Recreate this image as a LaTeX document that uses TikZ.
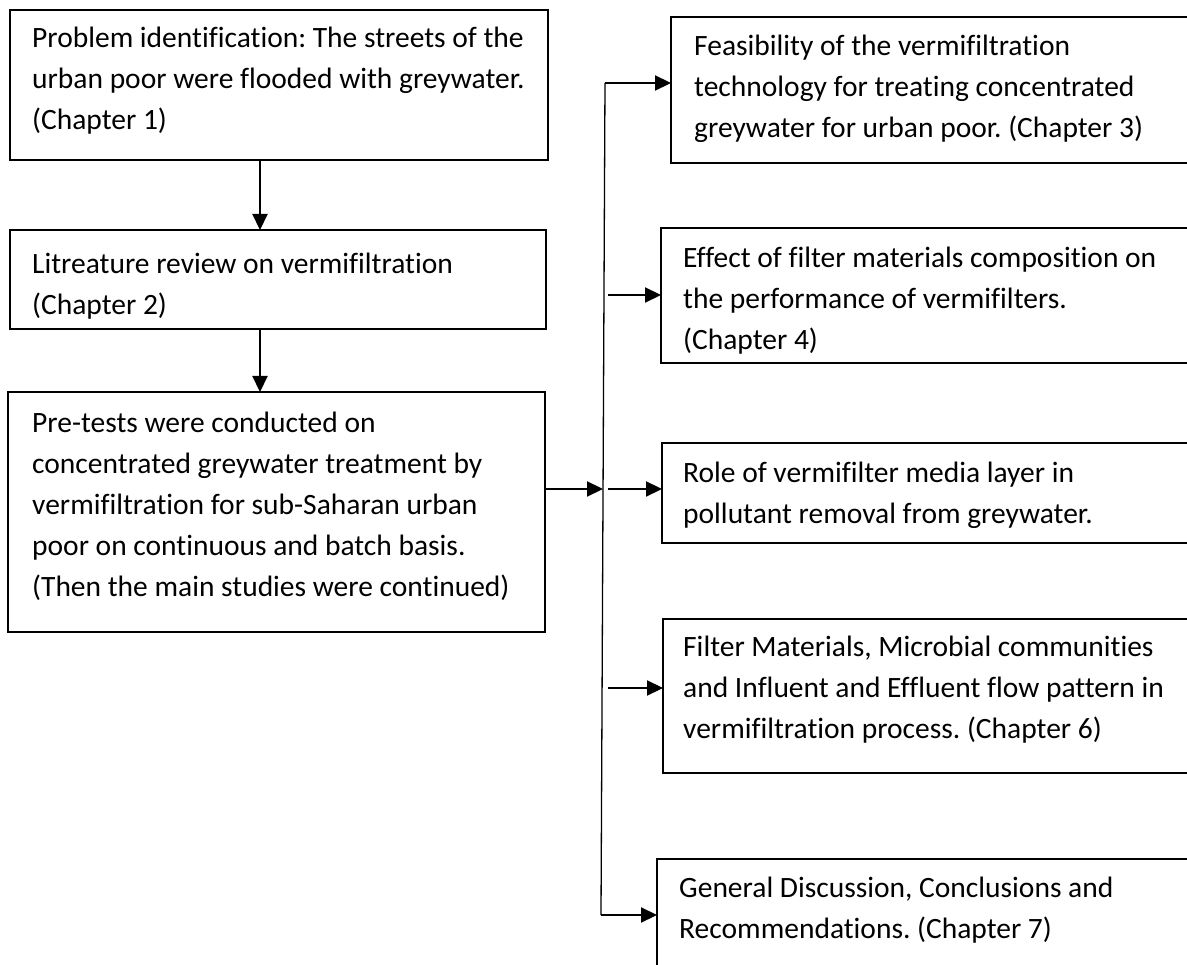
\documentclass[tikz,border=0pt]{standalone}
\usepackage{fontspec}
\setmainfont{Carlito}[Ligatures={NoCommon}]
\usetikzlibrary{arrows.meta,calc}
\frenchspacing
\begin{document}
\begin{tikzpicture}[x=1pt,y=-1pt,
  box/.style={draw=black,line width=1.2pt,anchor=north west,inner sep=0pt,outer sep=0pt},
  thickbox/.style={box,line width=2pt},
  txt/.style={anchor=north west,inner sep=0pt,align=left,font=\fontsize{29.5}{41}\selectfont},
  arr/.style={line width=2.2pt,-{Triangle[length=16pt,width=15pt]}},
  vline/.style={line width=1.3pt}]
\useasboundingbox (0,0) rectangle (1187,965);
\clip (0,0) rectangle (1187,965);
% left column boxes
\node[box,minimum width=538pt,minimum height=150pt] (b1) at (10,10) {};
\node[box,minimum width=536pt,minimum height=99pt] (b2) at (10,230) {};
\node[box,minimum width=537pt,minimum height=240pt] (b3) at (8,392) {};
% right column boxes (cut by the right edge)
\node[box,minimum width=540pt,minimum height=146pt] (r1) at (671,17) {};
\node[box,minimum width=540pt,minimum height=135pt] (r2) at (661,228) {};
\node[box,minimum width=540pt,minimum height=100pt] (r3) at (662,443) {};
\node[thickbox,minimum width=540pt,minimum height=154pt] (r4) at (663,619) {};
\node[thickbox,minimum width=540pt,minimum height=160pt] (r5) at (657,859) {};
% texts
\node[txt] (t1) at (32,23) {\rule{0pt}{24pt}Problem identification: The streets of the\\urban poor were flooded with greywater.\\(Chapter 1)};
\node[txt] (t2) at (32,249) {\rule{0pt}{24pt}Litreature review on vermifiltration\\(Chapter 2)};
\node[txt] (t3) at (32,408) {\rule{0pt}{24pt}Pre-tests were conducted on\\concentrated greywater treatment by\\vermifiltration for sub-Saharan urban\\poor on continuous and batch basis.\\(Then the main studies were continued)};
\node[txt] (t4) at (694,31) {\rule{0pt}{24pt}Feasibility of the vermifiltration\\technology for treating concentrated\\greywater for urban poor. (Chapter 3)};
\node[txt] (t5) at (683,243) {\rule{0pt}{24pt}Effect of filter materials composition on\\the performance of vermifilters.\\(Chapter 4)};
\node[txt] (t6) at (683,458) {\rule{0pt}{24pt}Role of vermifilter media layer in\\pollutant removal from greywater.};
\node[txt] (t7) at (683,632) {\rule{0pt}{24pt}Filter Materials, Microbial communities\\and Influent and Effluent flow pattern in\\vermifiltration process. (Chapter 6)};
\node[txt] (t8) at (679,873) {\rule{0pt}{24pt}General Discussion, Conclusions and\\Recommendations. (Chapter 7)};
% connectors
\coordinate (ax) at (260,0);
\draw[arr] (b1.south -| ax) -- (b2.north -| ax);
\draw[arr] (b2.south -| ax) -- (b3.north -| ax);
\coordinate (vt) at (605,83);
\coordinate (vb) at (601,915);
\coordinate (j) at (603,489);
\draw[vline] (vt) -- (vb);
\draw[arr] (b3.east |- j) -- (j);
\draw[arr] (vt) -- (vt -| r1.west);
\coordinate (s2) at (608,295);
\coordinate (s3) at (608,489);
\coordinate (s4) at (608,688);
\draw[arr] (s2) -- (s2 -| r2.west);
\draw[arr] (s3) -- (s3 -| r3.west);
\draw[arr] (s4) -- (s4 -| r4.west);
\draw[arr] (vb) -- (vb -| r5.west);
\end{tikzpicture}
\end{document}
